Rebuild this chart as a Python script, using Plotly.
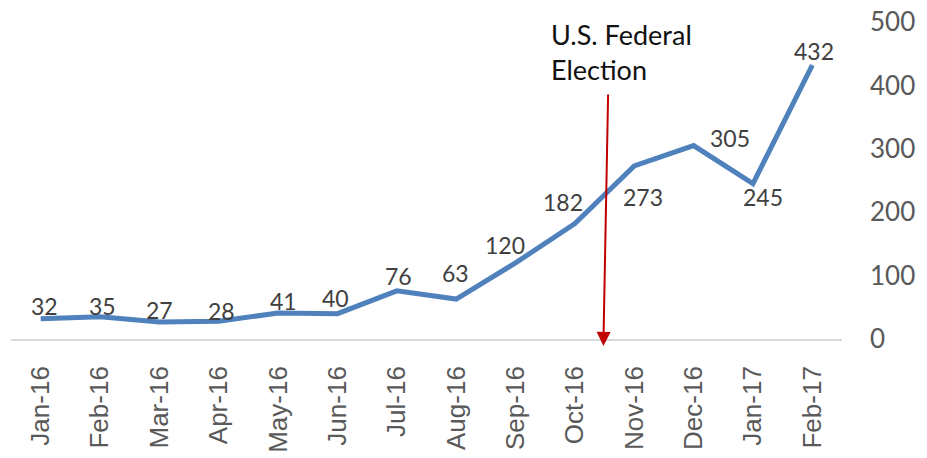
import plotly.graph_objects as go

# ---- data ----
months = ["Jan-16", "Feb-16", "Mar-16", "Apr-16", "May-16", "Jun-16", "Jul-16",
          "Aug-16", "Sep-16", "Oct-16", "Nov-16", "Dec-16", "Jan-17", "Feb-17"]
values = [32, 35, 27, 28, 41, 40, 76, 63, 120, 182, 273, 305, 245, 432]
y_ticks = [0, 100, 200, 300, 400, 500]
event_text = "U.S. Federal<br>Election"

# label pixel offsets (style only)
label_dx = [4, 2, 0, 3, 5, -2, 2, -1, -11, -12, 9, 36, 10, 2]
label_dy = [-13, -11, -12, -10, -12, -16, -15, -26, -18, -22, 31, -8, 13, -14]

x_idx = list(range(len(months)))

fig = go.Figure()
fig.add_trace(go.Scatter(
    x=x_idx, y=values, mode="lines",
    line=dict(color="#4F81BD", width=5),
    hoverinfo="skip", showlegend=False,
))

annotations = []
for i, v in enumerate(values):
    annotations.append(dict(
        x=i, y=v, xref="x", yref="y", text=str(v), showarrow=False,
        xshift=label_dx[i], yshift=-label_dy[i],
        font=dict(family="Lato", size=23, color="#404040"),
    ))

# arrow marking the election (between Oct-16 and Nov-16)
annotations.append(dict(
    x=9.48, y=-11, xref="x", yref="y",
    ax=9.56, ay=388, axref="x", ayref="y",
    text="", showarrow=True, arrowhead=2, arrowsize=1.4, arrowwidth=2,
    arrowcolor="#C00000",
))
annotations.append(dict(
    x=0.648, y=1.02, xref="paper", yref="paper", text=event_text, showarrow=False,
    xanchor="left", yanchor="top", align="left",
    font=dict(family="Lato", size=27, color="#111111"),
))

fig.update_layout(
    width=927, height=458,
    margin=dict(l=11, r=85, t=22, b=119),
    paper_bgcolor="white", plot_bgcolor="white",
    annotations=annotations,
    xaxis=dict(
        tickmode="array", tickvals=x_idx, ticktext=months,
        range=[-0.5, len(months) - 0.5],
        tickangle=-90, showgrid=False, zeroline=False,
        showline=True, linecolor="#D9D9D9", linewidth=1.5,
        ticks="", ticklabelstandoff=15, automargin=False,
        tickfont=dict(family="Liberation Sans", size=26, color="#595959"),
    ),
    yaxis=dict(
        side="right", range=[0, 500], tickvals=y_ticks,
        showgrid=False, zeroline=False, showline=False, ticks="",
        ticklabelstandoff=27, automargin=False,
        tickfont=dict(family="Lato", size=26, color="#595959"),
    ),
)

fig.write_html(
    "out.html",
    config={"displayModeBar": False},
    post_script="document.body.style.margin='0';document.body.style.overflow='hidden';",
)
